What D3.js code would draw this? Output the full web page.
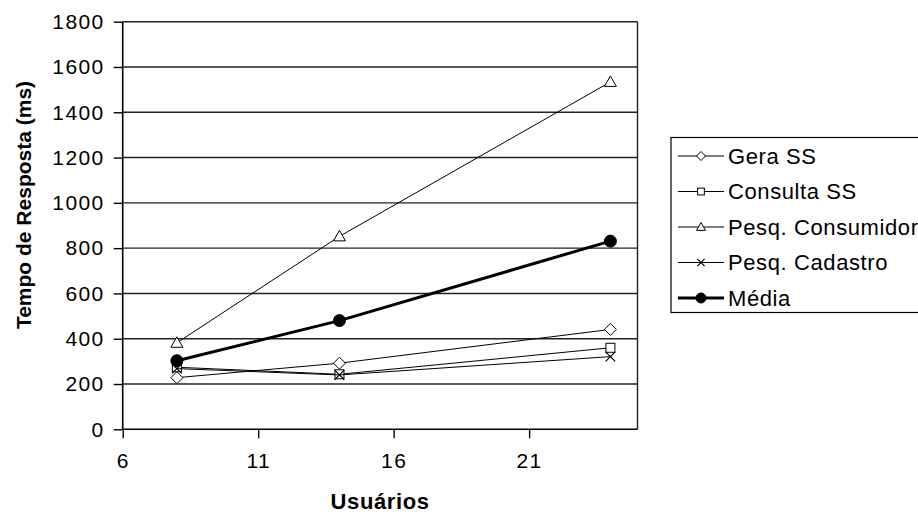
<!DOCTYPE html>
<html>
<head>
<meta charset="utf-8">
<script src="https://cdn.jsdelivr.net/npm/d3@7"></script>
<style>
  html, body { margin: 0; padding: 0; background: #fff; }
  svg { display: block; font-family: "Liberation Sans", Arial, sans-serif; }
</style>
</head>
<body>
<svg id="chart" width="918" height="514"></svg>
<script>
// Response time (ms) per number of users
const users = [8, 14, 24];
const geraSS = [228, 292, 441];
const consultaSS = [274, 243, 360];
const pesqConsumidor = [382, 852, 1534];
const pesqCadastro = [268, 240, 321];
const media = [303, 480, 831];

const xTicks = [6, 11, 16, 21];
const yTicks = [0, 200, 400, 600, 800, 1000, 1200, 1400, 1600, 1800];

const series = [
  { name: "Gera SS", values: geraSS, marker: "diamond", width: 1 },
  { name: "Consulta SS", values: consultaSS, marker: "square", width: 1 },
  { name: "Pesq. Consumidor", values: pesqConsumidor, marker: "triangle", width: 1 },
  { name: "Pesq. Cadastro", values: pesqCadastro, marker: "cross", width: 1 },
  { name: "Média", values: media, marker: "circle", width: 3 }
];

const svg = d3.select("#chart");
const plot = { left: 122.7, right: 637.5, top: 21.7, bottom: 429.3 };

const x = d3.scaleLinear().domain([6, 25]).range([plot.left, plot.right]);
const y = d3.scaleLinear().domain([0, 1800]).range([plot.bottom, plot.top]);

// horizontal gridlines
svg.append("g")
  .selectAll("line")
  .data(yTicks.filter(d => d > 0))
  .join("line")
  .attr("x1", plot.left).attr("x2", plot.right)
  .attr("y1", d => y(d)).attr("y2", d => y(d))
  .attr("stroke", "#222").attr("stroke-width", 1.4);

// right border of plot area
svg.append("line")
  .attr("x1", plot.right).attr("x2", plot.right)
  .attr("y1", plot.top).attr("y2", plot.bottom)
  .attr("stroke", "#222").attr("stroke-width", 1.4);

// axes
const yAxis = d3.axisLeft(y).tickValues(yTicks).tickSize(9).tickPadding(9).tickFormat(d3.format("d"));
const xAxis = d3.axisBottom(x).tickValues(xTicks).tickSize(9).tickPadding(15).tickFormat(d3.format("d"));

const gy = svg.append("g").attr("transform", `translate(${plot.left},0)`).call(yAxis);
const gx = svg.append("g").attr("transform", `translate(0,${plot.bottom})`).call(xAxis);

[gx, gy].forEach(g => {
  g.select(".domain").attr("stroke", "#000").attr("stroke-width", 1.6);
  g.selectAll(".tick line").attr("stroke", "#000").attr("stroke-width", 1.4);
  g.selectAll(".tick text")
    .attr("fill", "#000")
    .style("font-family", "'Liberation Sans', Arial, sans-serif")
    .style("font-size", "21px")
    .style("letter-spacing", "1.4px");
});
gx.select(".domain").attr("d", `M${plot.left},0H${plot.right}`);
gy.select(".domain").attr("d", `M0,${plot.top}V${plot.bottom}`);

// axis titles
svg.append("text")
  .attr("x", (plot.left + plot.right) / 2)
  .attr("y", 509)
  .attr("text-anchor", "middle")
  .style("font-weight", "bold")
  .style("font-size", "22px")
  .style("letter-spacing", "0.6px")
  .text("Usuários");

svg.append("text")
  .attr("transform", "translate(31,205) rotate(-90)")
  .attr("text-anchor", "middle")
  .style("font-weight", "bold")
  .style("font-size", "21px")
  .text("Tempo de Resposta (ms)");

// marker drawing
function drawMarker(g, type, cx, cy, s) {
  if (type === "diamond") {
    g.append("path")
      .attr("d", `M${cx},${cy - s}L${cx + s},${cy}L${cx},${cy + s}L${cx - s},${cy}Z`)
      .attr("fill", "#fff").attr("stroke", "#000").attr("stroke-width", 1);
  } else if (type === "square") {
    const h = s * 0.75;
    g.append("rect")
      .attr("x", cx - h).attr("y", cy - h).attr("width", 2 * h).attr("height", 2 * h)
      .attr("fill", "#fff").attr("stroke", "#000").attr("stroke-width", 1);
  } else if (type === "triangle") {
    g.append("path")
      .attr("d", `M${cx},${cy - s}L${cx + s},${cy + s * 0.75}L${cx - s},${cy + s * 0.75}Z`)
      .attr("fill", "#fff").attr("stroke", "#000").attr("stroke-width", 1);
  } else if (type === "cross") {
    const h = s * 0.8;
    g.append("path")
      .attr("d", `M${cx - h},${cy - h}L${cx + h},${cy + h}M${cx + h},${cy - h}L${cx - h},${cy + h}`)
      .attr("fill", "none").attr("stroke", "#000").attr("stroke-width", 1.2);
  } else if (type === "circle") {
    g.append("circle")
      .attr("cx", cx).attr("cy", cy).attr("r", s)
      .attr("fill", "#000").attr("stroke", "#000");
  }
}

const line = d3.line().x(d => x(d[0])).y(d => y(d[1]));

// series lines and markers
series.forEach(s => {
  const pts = users.map((u, i) => [u, s.values[i]]);
  const g = svg.append("g");
  g.append("path")
    .datum(pts)
    .attr("d", line)
    .attr("fill", "none")
    .attr("stroke", "#000")
    .attr("stroke-width", s.width);
  pts.forEach(p => drawMarker(g, s.marker, x(p[0]), y(p[1]), 6));
});

// legend
const legend = svg.append("g");
legend.append("rect")
  .attr("x", 671).attr("y", 137.5)
  .attr("width", 270).attr("height", 175)
  .attr("fill", "#fff").attr("stroke", "#000").attr("stroke-width", 1.2);

series.forEach((s, i) => {
  const cy = 156 + i * 35.5;
  const g = legend.append("g");
  g.append("line")
    .attr("x1", 678).attr("x2", 724)
    .attr("y1", cy).attr("y2", cy)
    .attr("stroke", "#000").attr("stroke-width", s.width);
  drawMarker(g, s.marker, 701, cy, s.marker === "circle" ? 5 : 4.5);
  g.append("text")
    .attr("x", 728).attr("y", cy)
    .attr("dy", "0.35em")
    .style("font-size", "22px")
    .style("letter-spacing", "0.6px")
    .text(s.name);
});
</script>
</body>
</html>
